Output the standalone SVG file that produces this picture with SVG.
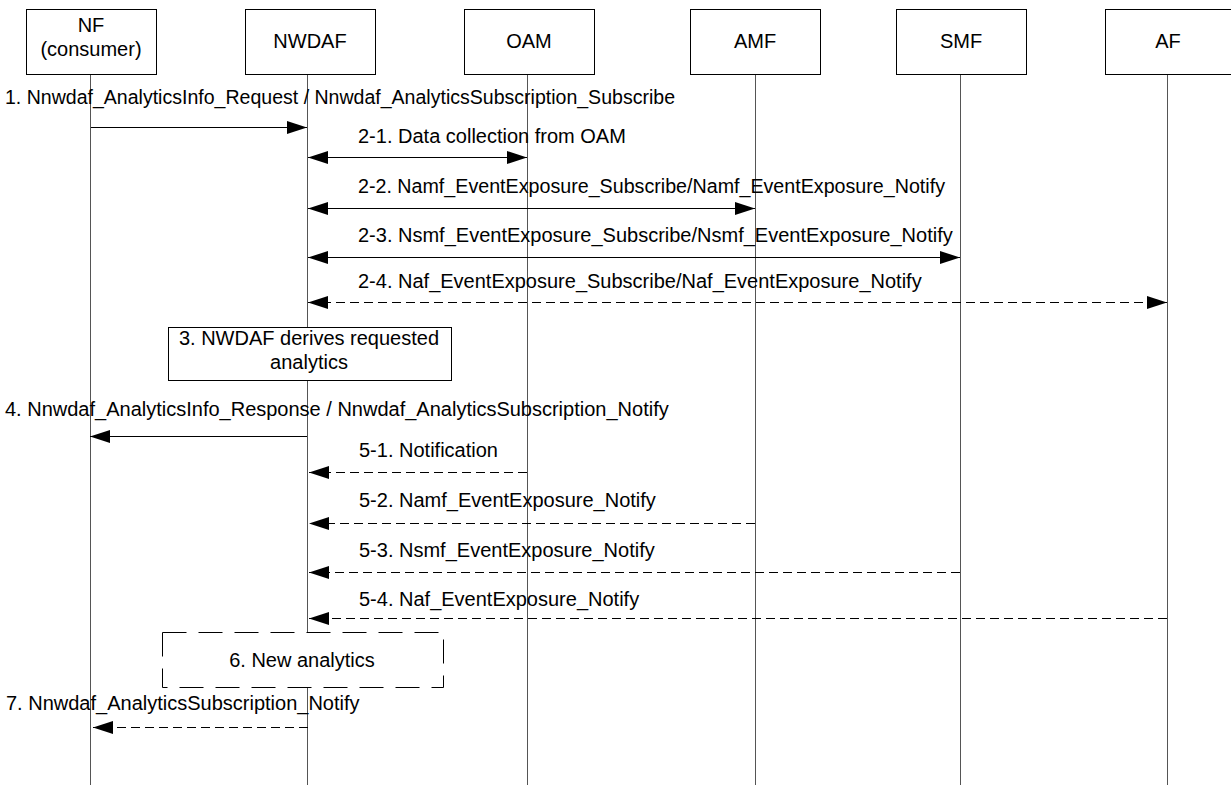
<svg xmlns="http://www.w3.org/2000/svg" width="1231" height="785" viewBox="0 0 1231 785">
<style>
text{font-family:"Liberation Sans",Arial,sans-serif;font-size:20px;fill:#000}
.c{text-anchor:middle}
.hdr{fill:#fff;stroke:#000;stroke-width:1}
.life{stroke:#555;stroke-width:1;fill:none}
.msg{stroke:#000;stroke-width:1;fill:none}
.dash{stroke-dasharray:9,5}
</style>
<defs>
<marker id="ah" markerUnits="userSpaceOnUse" markerWidth="20" markerHeight="13" refX="20" refY="6.5" orient="auto-start-reverse" viewBox="0 0 20 13">
<path d="M0,0 L20,6.5 L0,13 z" fill="#000"/>
</marker>
</defs>
<rect width="1231" height="785" fill="#fff"/>
<g id="lifelines">
<line class="life" x1="90.5" y1="74" x2="90.5" y2="785"/>
<line class="life" x1="307.5" y1="74" x2="307.5" y2="785"/>
<line class="life" x1="527.5" y1="74" x2="527.5" y2="785"/>
<line class="life" x1="755.5" y1="74" x2="755.5" y2="785"/>
<line class="life" x1="960.5" y1="74" x2="960.5" y2="785"/>
<line class="life" x1="1167.5" y1="74" x2="1167.5" y2="785"/>
</g>
<g id="nf"><rect class="hdr" x="26.5" y="9.5" width="130" height="65"/><text class="c" x="91" y="32">NF</text><text class="c" x="91" y="56">(consumer)</text></g>
<g id="nwdaf"><rect class="hdr" x="245.5" y="9.5" width="130" height="65"/><text class="c" x="310" y="48">NWDAF</text></g>
<g id="oam"><rect class="hdr" x="464.5" y="9.5" width="130" height="65"/><text class="c" x="529" y="48">OAM</text></g>
<g id="amf"><rect class="hdr" x="690.5" y="9.5" width="130" height="65"/><text class="c" x="755" y="48">AMF</text></g>
<g id="smf"><rect class="hdr" x="896.5" y="9.5" width="130" height="65"/><text class="c" x="961" y="48">SMF</text></g>
<g id="af"><rect class="hdr" x="1105.5" y="9.5" width="130" height="65"/><text class="c" x="1168" y="48">AF</text></g>
<g id="step3"><rect x="168.5" y="327.5" width="283" height="53" fill="#fff" stroke="#000"/><text class="c" x="309" y="345">3. NWDAF derives requested</text><text class="c" x="309" y="369">analytics</text></g>
<g id="step6"><rect x="162.5" y="632.5" width="281" height="55" fill="#fff" stroke="#000" stroke-dasharray="24,12"/><text class="c" x="302" y="667">6. New analytics</text></g>
<g id="connectors">
<line class="msg" x1="91" y1="127.5" x2="307" y2="127.5" marker-end="url(#ah)"/>
<line class="msg" x1="308" y1="157.5" x2="527" y2="157.5" marker-start="url(#ah)" marker-end="url(#ah)"/>
<line class="msg" x1="308" y1="208.5" x2="755" y2="208.5" marker-start="url(#ah)" marker-end="url(#ah)"/>
<line class="msg" x1="308" y1="257.5" x2="960" y2="257.5" marker-start="url(#ah)" marker-end="url(#ah)"/>
<line class="msg dash" x1="308" y1="302.5" x2="1167" y2="302.5" marker-start="url(#ah)" marker-end="url(#ah)"/>
<line class="msg" x1="307" y1="436.5" x2="90" y2="436.5" marker-end="url(#ah)"/>
<line class="msg dash" x1="527" y1="472.5" x2="309" y2="472.5" marker-end="url(#ah)"/>
<line class="msg dash" x1="755" y1="523.5" x2="309" y2="523.5" marker-end="url(#ah)"/>
<line class="msg dash" x1="960" y1="572.5" x2="309" y2="572.5" marker-end="url(#ah)"/>
<line class="msg dash" x1="1167" y1="618.5" x2="309" y2="618.5" marker-end="url(#ah)"/>
<line class="msg dash" x1="308" y1="727.5" x2="93" y2="727.5" marker-end="url(#ah)"/>
</g>
<g id="labels">
<text x="5" y="104" textLength="670" lengthAdjust="spacingAndGlyphs">1. Nnwdaf_AnalyticsInfo_Request / Nnwdaf_AnalyticsSubscription_Subscribe</text>
<text x="358" y="143">2-1. Data collection from OAM</text>
<text x="358" y="193" textLength="587" lengthAdjust="spacingAndGlyphs">2-2. Namf_EventExposure_Subscribe/Namf_EventExposure_Notify</text>
<text x="358" y="242">2-3. Nsmf_EventExposure_Subscribe/Nsmf_EventExposure_Notify</text>
<text x="358" y="288">2-4. Naf_EventExposure_Subscribe/Naf_EventExposure_Notify</text>
<text x="5" y="416">4. Nnwdaf_AnalyticsInfo_Response / Nnwdaf_AnalyticsSubscription_Notify</text>
<text x="359" y="457">5-1. Notification</text>
<text x="359" y="507">5-2. Namf_EventExposure_Notify</text>
<text x="359" y="557">5-3. Nsmf_EventExposure_Notify</text>
<text x="359" y="606">5-4. Naf_EventExposure_Notify</text>
<text x="6" y="710">7. Nnwdaf_AnalyticsSubscription_Notify</text>
</g>
</svg>
